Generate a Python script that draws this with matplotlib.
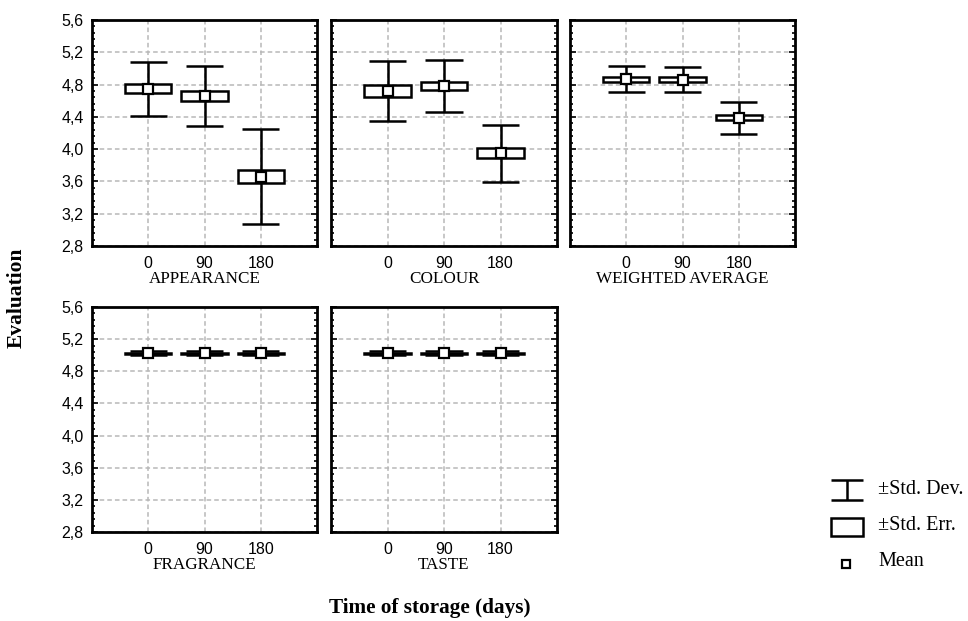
import matplotlib
matplotlib.use("Agg")
import matplotlib.pyplot as plt
from matplotlib.patches import Rectangle
from matplotlib.ticker import MultipleLocator, FixedLocator
import numpy as np

# ---- data -------------------------------------------------------------
days = ["0", "90", "180"]
attributes = ["APPEARANCE", "COLOUR", "WEIGHTED AVERAGE", "FRAGRANCE", "TASTE"]

mean_appearance = [4.75, 4.66, 3.66]
se_appearance = [0.060, 0.060, 0.083]
sd_appearance = [0.334, 0.372, 0.588]

mean_colour = [4.72, 4.78, 3.95]
se_colour = [0.072, 0.050, 0.064]
sd_colour = [0.370, 0.319, 0.353]

mean_weighted = [4.865, 4.86, 4.39]
se_weighted = [0.031, 0.030, 0.035]
sd_weighted = [0.159, 0.155, 0.197]

mean_fragrance = [5.025, 5.025, 5.025]
se_fragrance = [0.008, 0.008, 0.008]
sd_fragrance = [0.025, 0.025, 0.025]

mean_taste = [5.025, 5.025, 5.025]
se_taste = [0.008, 0.008, 0.008]
sd_taste = [0.025, 0.025, 0.025]

y_ticks = [2.8, 3.2, 3.6, 4.0, 4.4, 4.8, 5.2, 5.6]

panels = [
    (mean_appearance, se_appearance, sd_appearance),
    (mean_colour, se_colour, sd_colour),
    (mean_weighted, se_weighted, sd_weighted),
    (mean_fragrance, se_fragrance, sd_fragrance),
    (mean_taste, se_taste, sd_taste),
]

# ---- figure -----------------------------------------------------------
W, H = 968, 621
fig = plt.figure(figsize=(W / 100, H / 100), dpi=100)

sans = ["Liberation Sans", "DejaVu Sans"]
serif = ["Liberation Serif", "DejaVu Serif"]

def px_axes(x0, y0, x1, y1):
    return fig.add_axes([x0 / W, 1 - y1 / H, (x1 - x0) / W, (y1 - y0) / H])

col_x = [(92, 317), (331, 557), (570, 795)]
row_y = [(20, 246), (307, 532)]
positions = [(0, 0), (0, 1), (0, 2), (1, 0), (1, 1)]

box_half = 0.41
cap_half = 0.33
lw = 1.8

def fmt(v):
    return f"{v:.1f}".replace(".", ",")

for k, (name, (m, se, sd)) in enumerate(zip(attributes, panels)):
    r, c = positions[k]
    ax = px_axes(col_x[c][0], row_y[r][0], col_x[c][1], row_y[r][1])
    xs = np.arange(1, len(days) + 1)
    ax.set_xlim(0, len(days) + 1)
    ax.set_ylim(y_ticks[0], y_ticks[-1])

    ax.yaxis.set_major_locator(FixedLocator(y_ticks))
    ax.yaxis.set_minor_locator(MultipleLocator(0.08))
    ax.xaxis.set_major_locator(FixedLocator(xs))
    ax.set_xticklabels(days, fontfamily=sans, fontsize=11.5)
    if c == 0:
        ax.set_yticklabels([fmt(v) for v in y_ticks], fontfamily=sans, fontsize=11.5)
    else:
        ax.set_yticklabels([])
    ax.tick_params(axis="both", which="both", direction="in",
                   left=True, right=True, top=True, bottom=True, width=1.2)
    ax.tick_params(axis="y", which="major", length=4, pad=6)
    ax.tick_params(axis="y", which="minor", length=2.5)
    ax.tick_params(axis="x", which="major", length=0, pad=7)
    ax.grid(True, which="major", color="#b8b8b8", linestyle=(0, (3, 2)), linewidth=1.1)
    ax.set_axisbelow(True)
    for s in ax.spines.values():
        s.set_linewidth(2.0)
    ax.set_xlabel(name, fontfamily=serif, fontsize=12.3, labelpad=0)

    for x, mu, e, d in zip(xs, m, se, sd):
        # standard deviation whisker
        ax.plot([x, x], [mu - d, mu + d], color="black", lw=lw, zorder=3,
                solid_capstyle="butt")
        ax.plot([x - cap_half, x + cap_half], [mu + d, mu + d], color="black",
                lw=lw, zorder=3, solid_capstyle="butt")
        ax.plot([x - cap_half, x + cap_half], [mu - d, mu - d], color="black",
                lw=lw, zorder=3, solid_capstyle="butt")
        # standard error box
        ax.add_patch(Rectangle((x - box_half, mu - e), 2 * box_half, 2 * e,
                               facecolor="white", edgecolor="black", lw=lw, zorder=4))
        # mean marker
        ax.plot([x], [mu], marker="s", markersize=6.5, markerfacecolor="white",
                markeredgecolor="black", markeredgewidth=1.6, zorder=5)

# ---- axis titles ------------------------------------------------------
fig.text(430 / W, 1 - 608 / H, "Time of storage (days)", ha="center", va="center",
         fontfamily=serif, fontsize=15.3, fontweight="bold")
fig.text(17 / W, 1 - 298 / H, "Evaluation", ha="center", va="center", rotation=90,
         fontfamily=serif, fontsize=15.5, fontweight="bold")

# ---- legend -----------------------------------------------------------
lg = fig.add_axes([0, 0, 1, 1], facecolor="none")
lg.set_xlim(0, W)
lg.set_ylim(H, 0)
lg.axis("off")
lg.plot([831, 863], [480, 480], color="black", lw=lw, solid_capstyle="butt")
lg.plot([831, 863], [500, 500], color="black", lw=lw, solid_capstyle="butt")
lg.plot([847, 847], [480, 500], color="black", lw=lw, solid_capstyle="butt")
lg.add_patch(Rectangle((831, 518), 32, 18, facecolor="white", edgecolor="black", lw=lw))
lg.plot([846], [564], marker="s", markersize=6, markerfacecolor="white",
        markeredgecolor="black", markeredgewidth=1.6)
for ty, label in zip([489, 526, 561], ["±Std. Dev.", "±Std. Err.", "Mean"]):
    lg.text(878, ty, label, ha="left", va="center", fontfamily=serif, fontsize=14.5)

fig.savefig("out.png", dpi=100)
